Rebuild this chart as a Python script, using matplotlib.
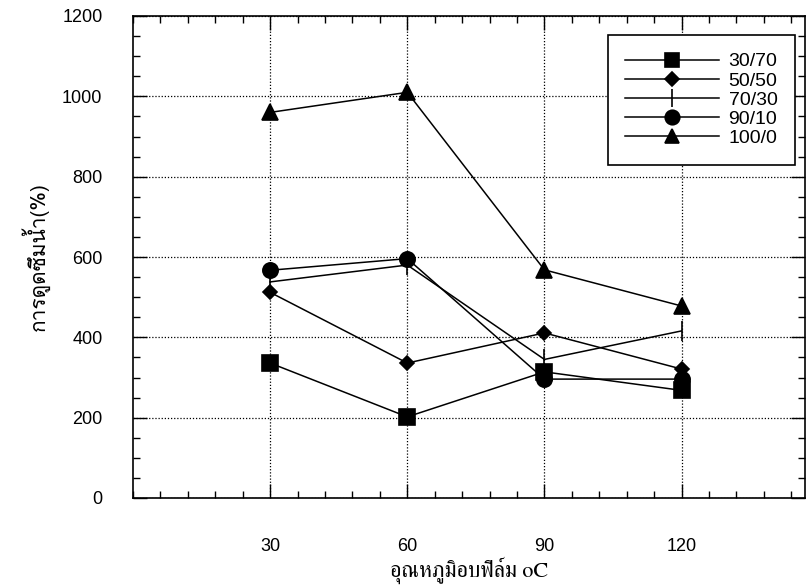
import numpy as np
import matplotlib
matplotlib.use("Agg")
import matplotlib.pyplot as plt
from matplotlib import font_manager
from matplotlib.ticker import MultipleLocator
from matplotlib.ft2font import FT2Font

# drying temperature (C) and water uptake (%) per blend ratio
temps = [30, 60, 90, 120]
blends = ["30/70", "50/50", "70/30", "90/10", "100/0"]
uptake_30_70 = [336, 202, 314, 268]
uptake_50_50 = [512, 336, 411, 321]
uptake_70_30 = [538, 580, 345, 416]
uptake_90_10 = [567, 596, 296, 296]
uptake_100_0 = [960, 1010, 568, 478]

x_label = "อุณหภูมิอบฟิล์ม oC"
y_label = "การดูดซึมน้ำ(%)"


def thai_family(fallback, prefer=None):
    # installed fonts that actually have Thai glyphs
    found = []
    for f in font_manager.fontManager.ttflist:
        try:
            if 0x0E01 in FT2Font(f.fname).get_charmap():
                found.append(f.name)
        except Exception:
            continue
    if prefer:
        for name in found:
            if prefer in name:
                return name
    return found[0] if found else fallback


names = {f.name for f in font_manager.fontManager.ttflist}
narrow = "Liberation Sans Narrow" if "Liberation Sans Narrow" in names else "Liberation Sans"
thai = thai_family("DejaVu Sans")
thai_serif = thai_family(thai, prefer="Serif")

fig = plt.figure(figsize=(8.06, 5.88), dpi=100)
ax = fig.add_axes([133 / 806, 90 / 588, 672 / 806, 482 / 588])

series = [uptake_30_70, uptake_50_50, uptake_70_30, uptake_90_10, uptake_100_0]
markers = ["s", "D", "|", "o", "^"]
msizes = [11, 7, 14, 11, 11]
for vals, lab, m, ms in zip(series, blends, markers, msizes):
    ax.plot(temps, vals, color="black", lw=1.1, marker=m, ms=ms,
            mew=1.2, mfc="black", mec="black", label=lab)

ax.set_xlim(0, 147)
ax.set_ylim(0, 1200)
ax.xaxis.set_major_locator(MultipleLocator(30))
ax.xaxis.set_minor_locator(MultipleLocator(6))
ax.yaxis.set_major_locator(MultipleLocator(200))
ax.yaxis.set_minor_locator(MultipleLocator(50))
ax.tick_params(which="both", direction="in", top=True, right=True, width=1)
ax.tick_params(which="major", length=10)
ax.tick_params(which="minor", length=5)
ax.tick_params(axis="y", pad=22)
ax.tick_params(axis="x", pad=29)
ax.set_xticks([30, 60, 90, 120])
ax.set_xticklabels(["30", "60", "90", "120"])
for lbl in ax.get_xticklabels() + ax.get_yticklabels():
    lbl.set_fontfamily(narrow)
    lbl.set_fontsize(13)
ax.grid(True, which="major", ls=(0, (1, 1.5)), color="black", lw=0.9)
for sp in ax.spines.values():
    sp.set_linewidth(1.2)

ax.set_xlabel(x_label, fontfamily=[thai_serif, "DejaVu Serif"], fontsize=16, labelpad=1)
ax.set_ylabel(y_label, fontfamily=[thai, "DejaVu Sans"], fontsize=15, labelpad=9)

leg = ax.legend(loc="upper right", bbox_to_anchor=(0.985, 0.96), frameon=True,
                fancybox=False, edgecolor="black", framealpha=1,
                prop={"family": narrow, "size": 14}, handlelength=4.8,
                labelspacing=0.08, borderpad=0.9, handletextpad=0.5,
                borderaxespad=0, markerscale=0.95)
leg.get_frame().set_linewidth(1.2)

fig.savefig("out.png", dpi=100)
